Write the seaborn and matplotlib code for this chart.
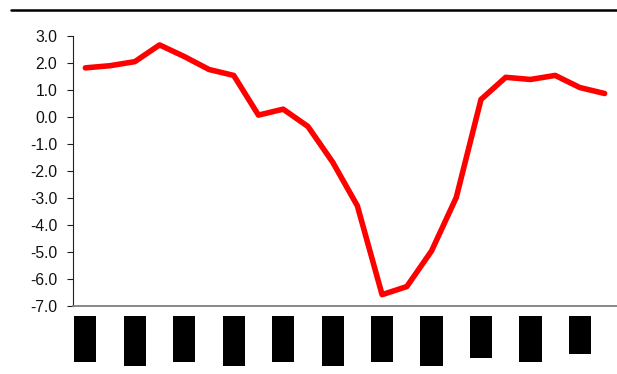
import matplotlib
matplotlib.use("Agg")
import matplotlib.pyplot as plt
from matplotlib.lines import Line2D
from matplotlib.patches import Rectangle
import matplotlib.transforms as mtransforms
import numpy as np
import pandas as pd
import seaborn as sns

# Series values, one per period
values = [1.82, 1.90, 2.05, 2.67, 2.24, 1.76, 1.54, 0.07, 0.29, -0.35, -1.67,
          -3.29, -6.58, -6.28, -4.96, -2.98, 0.65, 1.47, 1.39, 1.54, 1.09, 0.87]
periods = list(range(len(values)))
y_ticks = [3.0, 2.0, 1.0, 0.0, -1.0, -2.0, -3.0, -4.0, -5.0, -6.0, -7.0]
# Redacted period labels: drawn at every second period, as solid blocks
label_periods = periods[::2]
label_block_px = [46, 50, 46, 50, 46, 50, 46, 50, 42, 46, 38]

df = pd.DataFrame({"period": periods, "value": values})

sns.set_style("white")
plt.rcParams["font.family"] = ["Liberation Sans", "DejaVu Sans"]

W, H = 617, 374
fig = plt.figure(figsize=(W / 100, H / 100), dpi=100)
ax = fig.add_axes([73 / W, (H - 306) / H, (W - 73) / W, (306 - 36) / H])

sns.lineplot(data=df, x="period", y="value", ax=ax, color="#ff0000",
             linewidth=4.0, solid_joinstyle="round", solid_capstyle="round")

ax.set_xlim(-0.5, len(values) - 0.5)
ax.set_ylim(-7.0, 3.0)
ax.set_yticks(y_ticks)
ax.set_yticklabels([f"{v:.1f}" for v in y_ticks])
ax.set_xticks([])
ax.set_xlabel("")
ax.set_ylabel("")

ax.tick_params(axis="y", which="major", direction="out", length=4.3, width=0.8,
               color="#202020", labelsize=11.3, pad=7, labelcolor="#111111", left=True)

for side in ("top", "right"):
    ax.spines[side].set_visible(False)
ax.spines["left"].set_color("#202020")
ax.spines["left"].set_linewidth(0.8)
ax.spines["bottom"].set_color("#7f7f7f")
ax.spines["bottom"].set_linewidth(1.3)

# Period label blocks under the axis
trans = mtransforms.blended_transform_factory(ax.transData, fig.transFigure)
for p, h in zip(label_periods, label_block_px):
    top = (H - 316) / H
    ax.add_patch(Rectangle((p - 0.45, top - h / H), 0.9, h / H, transform=trans,
                           facecolor="black", edgecolor="none", clip_on=False))

# Rule across the top of the figure
fig.add_artist(Line2D([11 / W, 1.0], [(H - 10) / H, (H - 10) / H],
                      color="black", linewidth=1.8, transform=fig.transFigure))

fig.savefig("out.png", dpi=100)
